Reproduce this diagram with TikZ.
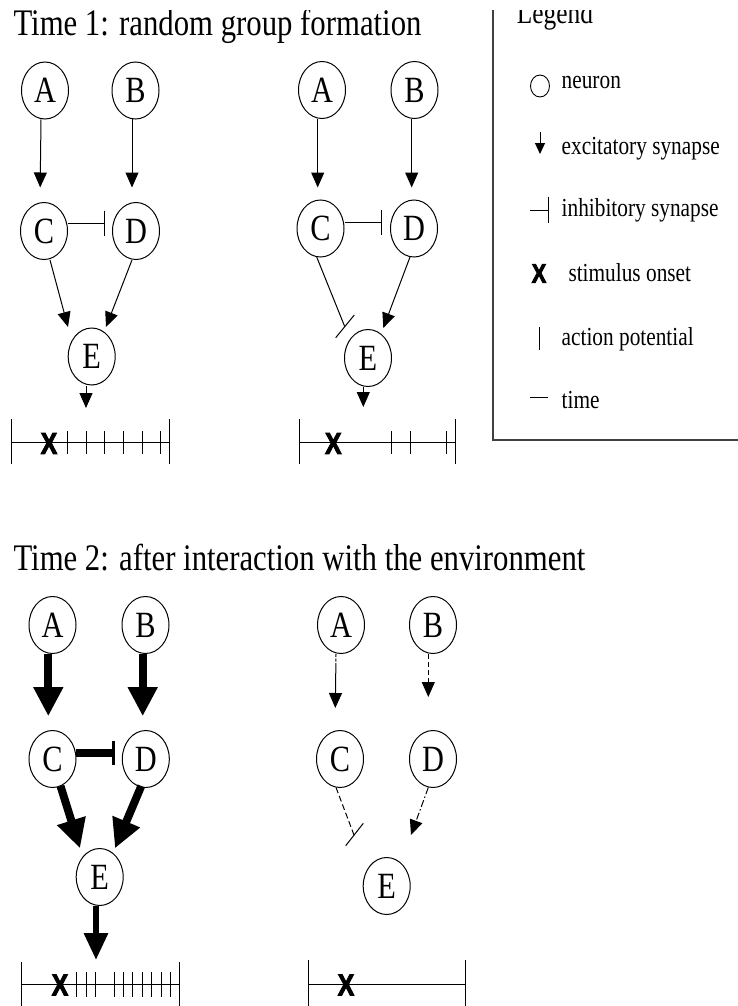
\documentclass[tikz,border=0pt]{standalone}
\usepackage{fontspec}
\setmainfont{Liberation Serif}[FakeStretch=0.82]
\newfontfamily\onsetfont{Liberation Sans Bold}[FakeStretch=0.82, FakeBold=3]
\usetikzlibrary{shapes.geometric,arrows.meta,calc}

\tikzset{
  neuron/.style={draw, ellipse, line width=1pt, inner sep=0pt,
    minimum width=47pt, minimum height=57pt, font=\fontsize{37}{38}\selectfont},
  exc/.style={line width=1pt, -{Triangle[length=15pt,width=13pt]}},
  excbig/.style={line width=8pt, -{Triangle[length=29pt,width=28pt]}},
  inh/.style={line width=1pt, -{Bar[width=25pt,line width=1pt]}},
  inhbig/.style={line width=7.5pt, -{Bar[width=24pt,line width=3.5pt]}},
  tline/.style={line width=1pt},
  tick/.style={line width=0.9pt},
  onset/.style={inner sep=0pt, font=\onsetfont\fontsize{30}{31}\selectfont},
  title/.style={anchor=base west, inner sep=0pt, font=\fontsize{37.5}{40}\selectfont},
  legtext/.style={anchor=base west, inner sep=0pt, font=\fontsize{26}{28}\selectfont},
}

\begin{document}
\begin{tikzpicture}[x=1pt, y=-1pt]
\useasboundingbox (0,0) rectangle (738,1006);
% the page is trimmed along its top edge
\clip (0,11) rectangle (738,1006);

% ---------- titles ----------
\node[title] (title1) at (13.3,35.5) {Time 1: random group formation};
\node[title] (title2) at (13.3,570) {Time 2: after interaction with the environment};

% ---------- Time 1, left group ----------
\node[neuron] (A1) at (45,90.5) {A};
\node[neuron] (B1) at (135.5,90.5) {B};
\node[neuron] (C1) at (44,231) {C};
\node[neuron] (D1) at (136,231) {D};
\node[neuron] (E1) at (91.7,356.5) {E};
\draw[exc, shorten >=14.5pt] ([xshift=-4pt]A1.south) -- ([xshift=-4pt]C1.north);
\draw[exc, shorten >=14.5pt] ([xshift=-3.5pt]B1.south) -- ([xshift=-4pt]D1.north);
\draw[inh] (C1.east |- 0,223) -- (105,223);
\draw[exc] ($(C1)+(6,29)$) -- ($(E1)+(-23.7,-29.5)$);
\draw[exc] ($(D1)+(-4,29)$) -- ($(E1)+(14.3,-29.5)$);
\coordinate (p1) at (86,408);
\draw[exc] (E1.south -| p1) -- (p1);
% timeline
\coordinate (t1l) at (11.7,442);
\coordinate (t1r) at (169.3,442);
\draw[tline] (t1l) -- (t1r);
\draw[tline] (11.7,419) -- (11.7,464);
\draw[tline] (169.3,419) -- (169.3,464);
\foreach \x in {67.7,86,104.7,123.3,142,160.3}
  \draw[tick] (\x,431) -- (\x,454);
\node[onset] (X1) at (49,443.5) {X};

% ---------- Time 1, right group ----------
\node[neuron] (A2) at (322,90) {A};
\node[neuron] (B2) at (414.5,90) {B};
\node[neuron] (C2) at (320.5,228.5) {C};
\node[neuron] (D2) at (414,228.5) {D};
\node[neuron] (E2) at (368,358) {E};
\draw[exc, shorten >=12pt] ([xshift=-4.3pt]A2.south) -- ([xshift=-2.8pt]C2.north);
\draw[exc, shorten >=12pt] ([xshift=-2.8pt]B2.south) -- ([xshift=-2.3pt]D2.north);
\draw[inh] (C2.east |- 0,222.7) -- (381.7,222.7);
\coordinate (b2) at (344.5,326);
\draw[line width=1pt] ($(C2)+(-3.8,28.5)$) -- (b2);
\draw[line width=1pt] ($(b2)+(-8.8,11.7)$) -- ($(b2)+(9.8,-11)$);
\draw[exc] ($(D2)+(-4,28.5)$) -- ($(E2)+(15.3,-30)$);
\coordinate (p2) at (363.3,407);
\draw[exc] (E2.south -| p2) -- (p2);
% timeline
\coordinate (t2l) at (299,442);
\coordinate (t2r) at (455.7,442);
\draw[tline] (t2l) -- (t2r);
\draw[tline] (299,419) -- (299,464);
\draw[tline] (455.7,419) -- (455.7,464);
\foreach \x in {391,410,446.7}
  \draw[tick] (\x,431) -- (\x,454);
\node[onset] (X2) at (333.3,443.5) {X};

% ---------- legend ----------
\draw[line width=1.2pt, black!75] (493,0) -- (493,440) -- (738,440);
\node[legtext, font=\fontsize{31}{32}\selectfont] (lgT) at (516.7,23.5) {Legend};
\node[draw, ellipse, line width=0.9pt, inner sep=0pt,
      minimum width=19pt, minimum height=22pt] (lgN) at (540,86) {};
\node[legtext] (lgNt) at (561.5,88.3) {neuron};
\coordinate (lgEa) at (540,131.7);
\coordinate (lgEb) at (540,154);
\draw[line width=1pt, -{Triangle[length=11pt,width=10pt]}] (lgEa) -- (lgEb);
\node[legtext] (lgEt) at (561.5,154) {excitatory synapse};
\coordinate (lgIa) at (530,210);
\coordinate (lgIb) at (549.3,210);
\draw[line width=1pt, -{Bar[width=26.6pt,line width=1pt]}] (lgIa) -- (lgIb);
\node[legtext] (lgIt) at (561.5,216.7) {inhibitory synapse};
\node[onset, font=\onsetfont\fontsize{26.5}{28}\selectfont] (lgX) at (539,273.5) {X};
\node[legtext] (lgXt) at (568.3,281) {stimulus onset};
\draw[line width=1pt] (539.3,327) -- (539.3,350);
\node[legtext] (lgAt) at (561.5,345) {action potential};
\draw[line width=1pt] (530,397) -- (548.3,397);
\node[legtext] (lgTt) at (561.5,408) {time};

% ---------- Time 2, left group ----------
\node[neuron] (A3) at (52.5,625) {A};
\node[neuron] (B3) at (145.5,625) {B};
\node[neuron] (C3) at (52.5,759) {C};
\node[neuron] (D3) at (145.8,759) {D};
\node[neuron] (E3) at (99.7,877) {E};
\draw[excbig, shorten >=13.8pt] ([xshift=-4.2pt]A3.south) -- ([xshift=-4.2pt]C3.north);
\draw[excbig, shorten >=13.8pt] ([xshift=-2.8pt]B3.south) -- ([xshift=-3.1pt]D3.north);
\draw[inhbig] ($(C3.east)+(-1,-6)$) -- (115,753);
\draw[excbig] ($(C3)+(8,27)$) -- ($(E3)+(-19.7,-28.7)$);
\draw[excbig] ($(D3)+(-4.5,27)$) -- ($(E3)+(15.3,-28.7)$);
\coordinate (p3) at (96,960);
\draw[line width=6pt, -{Triangle[length=27pt,width=23pt]}] (E3.south -| p3) -- (p3);
% timeline
\coordinate (t3l) at (21,984.3);
\coordinate (t3r) at (179,984.3);
\draw[tline] (t3l) -- (t3r);
\draw[tline] (21,962) -- (21,1006);
\draw[tline] (179,962) -- (179,1006);
\foreach \x in {76.7,86,95.7,114.3,123.3,132.7,142.3,151.7,161,170}
  \draw[tick] (\x,972) -- (\x,997);
\node[onset] (X3) at (60,985) {X};

% ---------- Time 2, right group ----------
\node[neuron] (A4) at (341,625) {A};
\node[neuron] (B4) at (433,625) {B};
\node[neuron] (C4) at (340,759) {C};
\node[neuron] (D4) at (433,759) {D};
\node[neuron] (E4) at (386.7,886) {E};
\draw[exc, shorten >=22pt,
      dash pattern=on 3pt off 1.5pt on 3pt off 1.5pt on 200pt off 0pt]
  ([xshift=-5pt]A4.south) -- ([xshift=-5pt]C4.north);
\draw[exc, shorten >=33pt, dash pattern=on 5pt off 3pt]
  ([xshift=-4.7pt]B4.south) -- ([xshift=-4.7pt]D4.north);
\coordinate (b4) at (354,835);
\draw[line width=1pt, dash pattern=on 6pt off 3pt] ($(C4)+(-4,28.5)$) -- (b4);
\draw[line width=1pt] ($(b4)+(-8.3,10.7)$) -- ($(b4)+(9.3,-11.7)$);
\draw[exc, dash pattern=on 7pt off 2.5pt on 1.5pt off 2.5pt]
  ($(D4)+(-4.7,28.5)$) -- ($(E4)+(24.3,-51)$);
% timeline
\coordinate (t4l) at (308.3,984);
\coordinate (t4r) at (465,984);
\draw[tline] (t4l) -- (t4r);
\draw[tline] (308.3,960) -- (308.3,1006);
\draw[tline] (465,960) -- (465,1006);
\node[onset] (X4) at (346,985) {X};
\end{tikzpicture}
\end{document}
